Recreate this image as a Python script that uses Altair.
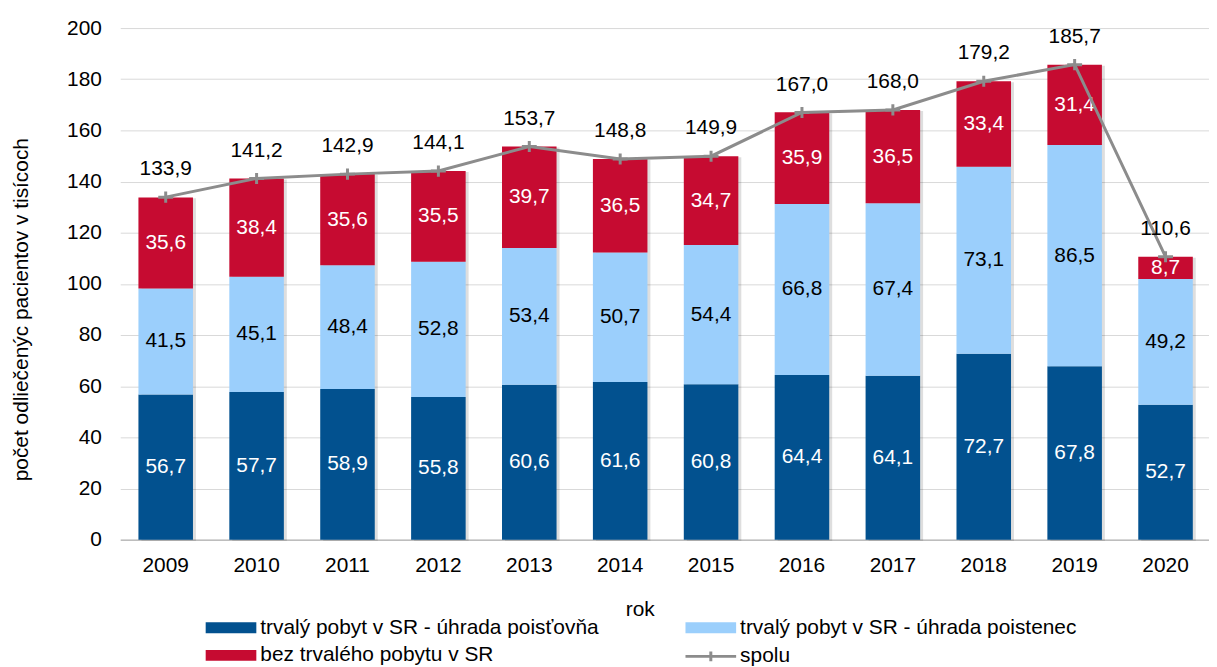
import altair as alt
import pandas as pd

years = ["2009", "2010", "2011", "2012", "2013", "2014", "2015", "2016", "2017", "2018", "2019", "2020"]
poistovna = [56.7, 57.7, 58.9, 55.8, 60.6, 61.6, 60.8, 64.4, 64.1, 72.7, 67.8, 52.7]
poistenec = [41.5, 45.1, 48.4, 52.8, 53.4, 50.7, 54.4, 66.8, 67.4, 73.1, 86.5, 49.2]
bez_pobytu = [35.6, 38.4, 35.6, 35.5, 39.7, 36.5, 34.7, 35.9, 36.5, 33.4, 31.4, 8.7]
spolu = [133.9, 141.2, 142.9, 144.1, 153.7, 148.8, 149.9, 167.0, 168.0, 179.2, 185.7, 110.6]

series_names = [
    "trvalý pobyt v SR - úhrada poisťovňa",
    "trvalý pobyt v SR - úhrada poistenec",
    "bez trvalého pobytu v SR",
]
series_colors = ["#02518f", "#9bcffc", "#c60b31"]
line_name = "spolu"
line_color = "#8c8c8c"

# legend fills column by column: order entries so rows read as in the original
legend_order = [0, 2, 1]
legend_domain = [series_names[i] for i in legend_order]
legend_range = [series_colors[i] for i in legend_order]

FONT = "Liberation Sans"
FS = 21

rows = []
for i, y in enumerate(years):
    for k, (name, vals) in enumerate(zip(series_names, [poistovna, poistenec, bez_pobytu])):
        rows.append({"year": y, "series": name, "value": vals[i], "ord": k})
bars_df = pd.DataFrame(rows)
tot_df = pd.DataFrame({"year": years, "total": spolu, "s": [line_name] * len(years)})

xscale = alt.Scale(domain=years, range=[0, 1098], paddingInner=0.4, paddingOuter=0.2)
yscale = alt.Scale(domain=[0, 200], nice=False)

x_enc = alt.X(
    "year:N",
    scale=xscale,
    sort=years,
    axis=alt.Axis(
        title="rok",
        labelAngle=0,
        ticks=False,
        labelPadding=15,
        labelFont=FONT,
        labelFontSize=FS,
        labelColor="#000000",
        domainColor="#a6a6a6",
        domainWidth=1,
        titleFont=FONT,
        titleFontSize=FS,
        titleFontWeight="normal",
        titleColor="#000000",
        titleX=523,
        titleY=70,
        titleBaseline="middle",
        grid=False,
    ),
)

stacked = alt.Chart(bars_df).transform_stack(
    stack="value", groupby=["year"], as_=["y0", "y1"], sort=[alt.SortField("ord")]
).transform_calculate(
    mid="(datum.y0 + datum.y1) / 2",
    label="replace(format(datum.value, '.1f'), '.', ',')",
)

shadow = alt.Chart(tot_df).mark_bar(color="#000000", opacity=0.13, xOffset=3, yOffset=1).encode(
    x=x_enc,
    y=alt.Y("total:Q", scale=yscale),
)

bars = stacked.mark_bar().encode(
    x=x_enc,
    y=alt.Y(
        "y1:Q",
        scale=yscale,
        axis=alt.Axis(
            title="počet odliečenýc pacientov v tisícoch",
            values=list(range(0, 201, 20)),
            ticks=False,
            domain=False,
            labelPadding=19,
            labelFont=FONT,
            labelFontSize=FS,
            labelColor="#000000",
            gridColor="#d9d9d9",
            gridWidth=1,
            titleFont=FONT,
            titleFontSize=FS,
            titleFontWeight="normal",
            titleColor="#000000",
            titleX=-99,
            titleY=283,
            titleBaseline="middle",
        ),
    ),
    y2="y0:Q",
    color=alt.Color(
        "series:N",
        scale=alt.Scale(domain=legend_domain, range=legend_range),
        legend=alt.Legend(
            title=None,
            orient="none",
            legendX=81,
            legendY=593,
            columns=2,
            columnPadding=82,
            rowPadding=6,
            padding=0,
            symbolType="M-1,-1L8.27,-1L8.27,1L-1,1Z",
            symbolSize=121,
            labelOffset=39,
            labelFont=FONT,
            labelFontSize=FS,
            labelColor="#000000",
            labelLimit=600,
        ),
    ),
)

seg_text = stacked.mark_text(font=FONT, fontSize=FS, baseline="middle").encode(
    x=x_enc,
    y=alt.Y("mid:Q", scale=yscale),
    text="label:N",
    color=alt.condition(
        "datum.series == 'trvalý pobyt v SR - úhrada poistenec'",
        alt.value("#000000"),
        alt.value("#ffffff"),
    ),
)

line = alt.Chart(tot_df).mark_line(strokeWidth=3).encode(
    x=x_enc,
    y=alt.Y("total:Q", scale=yscale),
    stroke=alt.Stroke(
        "s:N",
        scale=alt.Scale(domain=[line_name], range=[line_color]),
        legend=alt.Legend(
            title=None,
            orient="none",
            legendX=564,
            legendY=622,
            padding=0,
            symbolType="M-1,0L8.27,0M3.636,-0.9L3.636,0.9",
            symbolSize=121,
            symbolStrokeWidth=3,
            labelOffset=39,
            labelFont=FONT,
            labelFontSize=FS,
            labelColor="#000000",
            labelLimit=600,
        ),
    ),
)

points = alt.Chart(tot_df).mark_point(
    shape="M-1,0L1,0M0,-0.75L0,0.75", filled=False, strokeWidth=3, size=225, color=line_color, opacity=1
).encode(
    x=x_enc,
    y=alt.Y("total:Q", scale=yscale),
)

top_text = alt.Chart(tot_df).transform_calculate(
    label="replace(format(datum.total, '.1f'), '.', ',')"
).mark_text(font=FONT, fontSize=FS, baseline="alphabetic", dy=-22, color="#000000").encode(
    x=x_enc,
    y=alt.Y("total:Q", scale=yscale),
    text="label:N",
)

chart = alt.layer(shadow, bars, seg_text, line, points, top_text).properties(
    width=1096,
    height=515,
    autosize=alt.AutoSizeParams(type="none"),
    padding={"left": 113, "top": 18, "right": 0, "bottom": 126},
).configure_view(stroke=None).resolve_scale(color="independent")

chart.save("out.html", embed_options={"renderer": "svg", "actions": False})
